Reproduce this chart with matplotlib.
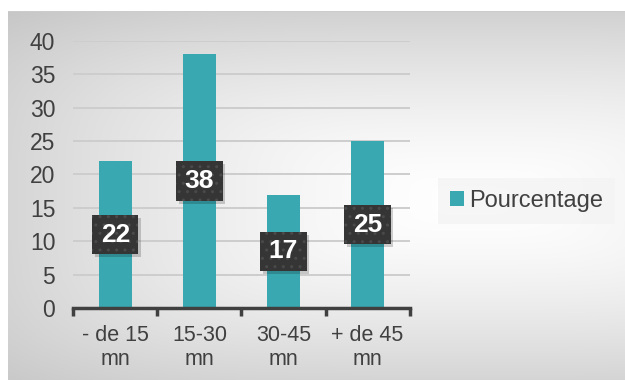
import numpy as np
import matplotlib
matplotlib.use("Agg")
import matplotlib.pyplot as plt
from matplotlib.patches import Rectangle

plt.rcParams['font.family'] = ['Liberation Sans', 'DejaVu Sans']

categories = ['- de 15\nmn', '15-30\nmn', '30-45\nmn', '+ de 45\nmn']
pourcentage = [22, 38, 17, 25]
series_name = 'Pourcentage'

bar_color = '#3aa8b1'
text_color = '#404040'

fig = plt.figure(figsize=(6.25, 3.8), dpi=100)

# grey gradient panel behind the chart (lighter towards the middle-right)
bg = fig.add_axes([0, 0, 1, 1], zorder=-10)
h, w = 380, 625
yy, xx = np.mgrid[0:h, 0:w]
dx = np.abs(xx - 470) / 600.0
dy = np.abs(yy - 200) / 230.0
d = (dx ** 4 + dy ** 4) ** 0.25
shade = np.clip(1.0 - 0.24 * d ** 1.5, 0.77, 1.0)
img = np.dstack([shade] * 3)
img[:11, :, :] = 1.0
img[:, :8, :] = 1.0
img[11:12, 8:, :] = 0.80
bg.imshow(img, aspect='auto', extent=(0, 1, 0, 1), origin='upper')
bg.set_axis_off()

ax = fig.add_axes([0.1173, 0.1887, 0.538, 0.7042])
ax.patch.set_alpha(0)
x = np.arange(len(categories))

ax.set_axisbelow(True)
ax.yaxis.grid(True, color='#cdcdcd', linewidth=1.4)
bars = ax.bar(x, pourcentage, width=0.4, color=bar_color, label=series_name, zorder=2)

box_w, box_h = 0.55, 5.9
for xi, v in zip(x, pourcentage):
    # shadow
    ax.add_patch(Rectangle((xi - box_w / 2 + 0.03, v / 2 - box_h / 2 - 0.45), box_w, box_h,
                           facecolor='#000000', alpha=0.18, linewidth=0, zorder=3))
    ax.add_patch(Rectangle((xi - box_w / 2, v / 2 - box_h / 2), box_w, box_h,
                           facecolor='#353535', edgecolor='#4a4a4a', linewidth=0,
                           hatch='..', zorder=4))
    ax.text(xi, v / 2, str(v), ha='center', va='center', color='white',
            fontsize=19, fontweight='bold', zorder=5)

ax.set_xlim(-0.5, len(categories) - 0.5)
ax.set_ylim(0, 40)
ax.set_yticks(range(0, 41, 5))
ax.set_xticks(x)
ax.set_xticklabels(categories, linespacing=1.2)
ax.set_xticks(np.arange(-0.5, len(categories), 1), minor=True)

for s in ['top', 'right', 'left']:
    ax.spines[s].set_visible(False)
ax.spines['bottom'].set_color('#404040')
ax.spines['bottom'].set_linewidth(2.5)
ax.spines['bottom'].set_zorder(6)

ax.tick_params(axis='y', length=0, labelsize=16.5, labelcolor=text_color, pad=13)
ax.tick_params(axis='x', which='major', length=0, labelsize=15.5, labelcolor=text_color, pad=12)
ax.tick_params(axis='x', which='minor', length=6, width=2.5, color='#404040', direction='out')

leg = fig.legend(handles=[bars], labels=[series_name], loc='center left',
                 bbox_to_anchor=(438 / 625, 1 - 201 / 380), frameon=True, fancybox=False,
                 facecolor='#f3f3f3', edgecolor='none', framealpha=0.7,
                 fontsize=17, handlelength=0.6, handleheight=0.6, handletextpad=0.2,
                 borderpad=0.5, borderaxespad=0)
for t in leg.get_texts():
    t.set_color(text_color)

fig.savefig('out.png', dpi=100)
